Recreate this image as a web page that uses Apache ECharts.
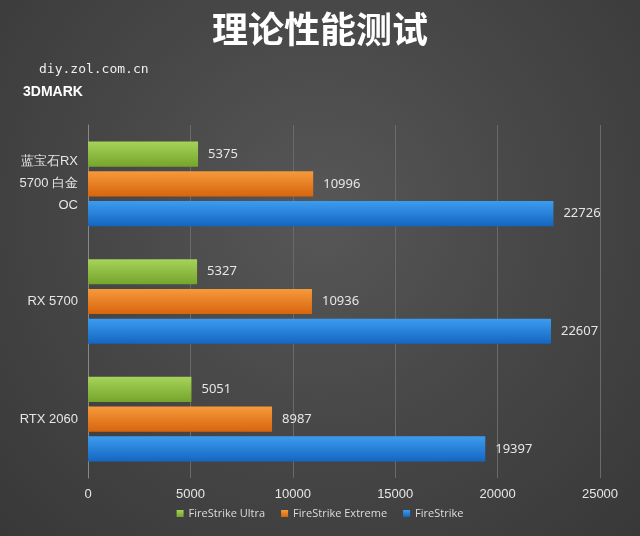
<!DOCTYPE html>
<html><head><meta charset="utf-8">
<script src="https://cdn.jsdelivr.net/npm/echarts@6/dist/echarts.min.js"></script>
<style>html,body{margin:0;padding:0;}
#c{width:640px;height:536px;background:radial-gradient(ellipse at 50% 40%,#575757 0%,#484848 45%,#383838 100%);}</style>
</head><body><div id="c"></div>
<script>
const categories = ['蓝宝石RX\n5700 白金\nOC', 'RX 5700', 'RTX 2060'];
const ultra = [5375, 5327, 5051];
const extreme = [10996, 10936, 8987];
const fire = [22726, 22607, 19397];
const seriesNames = ['FireStrike Ultra', 'FireStrike Extreme', 'FireStrike'];
const colors = [['#a6d35a','#76a52c'], ['#f59a3c','#d8650d'], ['#3d9cf0','#1466c0']];
const chart = echarts.init(document.getElementById('c'));
function grad(c){return new echarts.graphic.LinearGradient(0,0,0,1,[{offset:0,color:c[0]},{offset:1,color:c[1]}]);}
const lbl = {show:true, position:'right', color:'#e6e6e6', fontSize:13, distance:10, fontFamily:'Noto Sans'};
chart.setOption({
  backgroundColor:'transparent',
  title:[{text:'理论性能测试', left:'center', top:6, textStyle:{color:'#fff', fontSize:36, fontWeight:'bold', fontFamily:'Noto Sans CJK SC'}},
         {text:'diy.zol.com.cn', left:34, top:58, textStyle:{color:'#eee', fontSize:13, fontWeight:'normal', fontFamily:'DejaVu Sans Mono'}},
         {text:'3DMARK', left:18, top:80, textStyle:{color:'#fff', fontSize:14, fontWeight:'bold', fontFamily:'Liberation Sans'}}],
  legend:{bottom:12, left:'center', itemWidth:7, itemHeight:7, itemGap:16, icon:'rect',
    textStyle:{color:'#ddd', fontSize:11, fontFamily:'Open Sans'}, data:seriesNames},
  grid:{left:88, right:40, top:125, bottom:58},
  xAxis:{type:'value', min:0, max:25000, interval:5000,
    axisLabel:{color:'#e6e6e6', fontSize:13, margin:10, formatter:v=>String(v)},
    splitLine:{lineStyle:{color:'#6a6a6a'}}, axisLine:{show:false}, axisTick:{show:false}},
  yAxis:{type:'category', inverse:true, data:categories,
    axisLabel:{color:'#e6e6e6', fontSize:13, lineHeight:22, margin:10},
    axisLine:{lineStyle:{color:'#888'}}, axisTick:{show:false}},
  series:[
    {name:seriesNames[0], type:'bar', data:ultra, itemStyle:{color:grad(colors[0])}, label:lbl, barGap:'18%', barCategoryGap:'28%'},
    {name:seriesNames[1], type:'bar', data:extreme, itemStyle:{color:grad(colors[1])}, label:lbl},
    {name:seriesNames[2], type:'bar', data:fire, itemStyle:{color:grad(colors[2])}, label:lbl}
  ]
});
</script></body></html>
